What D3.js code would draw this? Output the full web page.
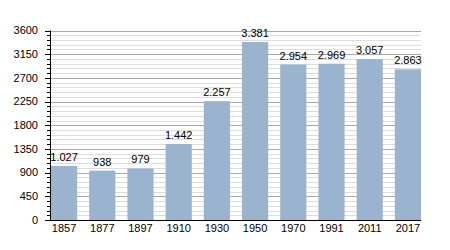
<!DOCTYPE html>
<html>
<head>
<meta charset="utf-8">
<script src="https://cdn.jsdelivr.net/npm/d3@7"></script>
<style>
  body { margin: 0; background: #fff; }
  svg { display: block; font-family: "Liberation Sans", Arial, sans-serif; }
</style>
</head>
<body>
<svg id="chart" width="450" height="250"></svg>
<script>
// Population by census year
const years = ["1857", "1877", "1897", "1910", "1930", "1950", "1970", "1991", "2011", "2017"];
const population = [1027, 938, 979, 1442, 2257, 3381, 2954, 2969, 3057, 2863];
const majorTicks = [0, 450, 900, 1350, 1800, 2250, 2700, 3150, 3600];
const minorTicks = d3.range(0, 3601, 90);

const svg = d3.select("#chart");
const plotLeft = 50, plotRight = 421, plotTop = 30.5, plotBottom = 220;

const x = d3.scaleBand()
    .domain(years)
    .range([plotLeft + 1, plotRight])
    .paddingInner(0.315)
    .paddingOuter(0);

const y = d3.scaleLinear()
    .domain([0, 3600])
    .range([plotBottom, plotTop]);

// minor gridlines
svg.append("g")
    .selectAll("line")
    .data(minorTicks.filter(d => d % 450 !== 0))
    .join("line")
    .attr("x1", plotLeft).attr("x2", plotRight)
    .attr("y1", d => Math.round(y(d)) + 0.5)
    .attr("y2", d => Math.round(y(d)) + 0.5)
    .attr("stroke", "#dddddd")
    .attr("stroke-width", 1);

// major gridlines
svg.append("g")
    .selectAll("line")
    .data(majorTicks.filter(d => d > 0))
    .join("line")
    .attr("x1", plotLeft).attr("x2", plotRight)
    .attr("y1", d => Math.round(y(d)) + 0.5)
    .attr("y2", d => Math.round(y(d)) + 0.5)
    .attr("stroke", "#a8a8a8")
    .attr("stroke-width", 1);

// bars
svg.append("g")
    .selectAll("rect")
    .data(population)
    .join("rect")
    .attr("x", (d, i) => x(years[i]))
    .attr("width", x.bandwidth())
    .attr("y", d => y(d))
    .attr("height", d => plotBottom - y(d))
    .attr("fill", "#9ab3ce");

// value labels with dot as thousands separator
const fmt = d3.formatLocale({ decimal: ",", thousands: ".", grouping: [3], currency: ["", ""] }).format(",");
svg.append("g")
    .selectAll("text")
    .data(population)
    .join("text")
    .attr("x", (d, i) => x(years[i]) + x.bandwidth() / 2)
    .attr("y", d => y(d) - 5)
    .attr("text-anchor", "middle")
    .attr("font-size", 11)
    .attr("fill", "#000")
    .text(d => fmt(d));

// y axis ticks
const yAxis = svg.append("g");
yAxis.selectAll("line.minor")
    .data(minorTicks)
    .join("line")
    .attr("class", "minor")
    .attr("x1", plotLeft - 3).attr("x2", plotLeft)
    .attr("y1", d => Math.round(y(d)) + 0.5)
    .attr("y2", d => Math.round(y(d)) + 0.5)
    .attr("stroke", "#000");
yAxis.selectAll("line.major")
    .data(majorTicks)
    .join("line")
    .attr("class", "major")
    .attr("x1", plotLeft - 5).attr("x2", plotLeft)
    .attr("y1", d => Math.round(y(d)) + 0.5)
    .attr("y2", d => Math.round(y(d)) + 0.5)
    .attr("stroke", "#000");
yAxis.selectAll("text")
    .data(majorTicks)
    .join("text")
    .attr("x", plotLeft - 12)
    .attr("y", d => y(d))
    .attr("dy", "0.35em")
    .attr("text-anchor", "end")
    .attr("font-size", 11)
    .text(d => d);

// axis lines
svg.append("line")
    .attr("x1", plotLeft + 0.5).attr("x2", plotLeft + 0.5)
    .attr("y1", plotTop).attr("y2", plotBottom + 1)
    .attr("stroke", "#000");
svg.append("line")
    .attr("x1", plotLeft).attr("x2", plotRight)
    .attr("y1", plotBottom + 0.5).attr("y2", plotBottom + 0.5)
    .attr("stroke", "#000");

// x labels
svg.append("g")
    .selectAll("text")
    .data(years)
    .join("text")
    .attr("x", d => x(d) + x.bandwidth() / 2)
    .attr("y", plotBottom + 12)
    .attr("text-anchor", "middle")
    .attr("font-size", 11)
    .text(d => d);
</script>
</body>
</html>
